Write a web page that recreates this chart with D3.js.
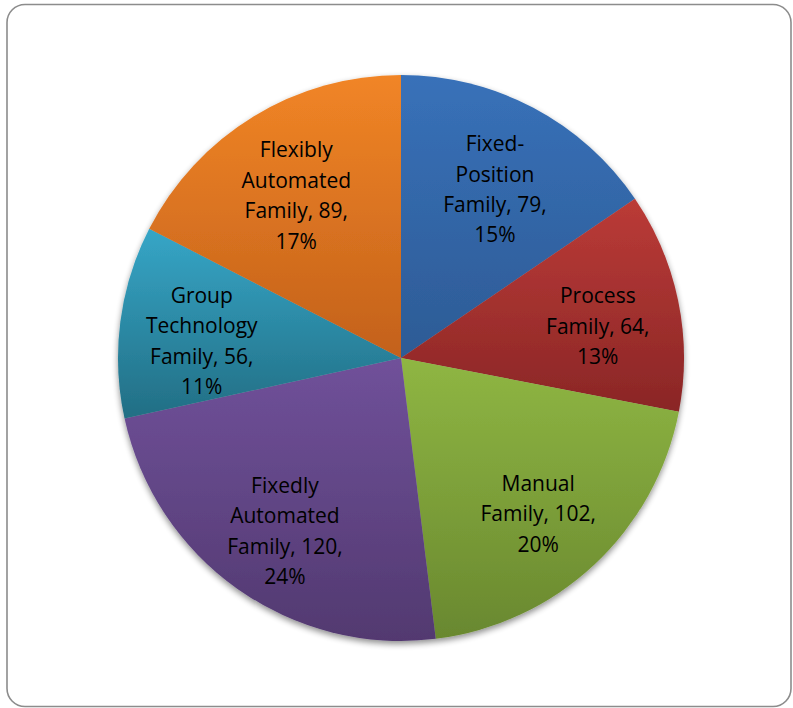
<!DOCTYPE html>
<html>
<head>
<meta charset="utf-8">
<script src="https://cdn.jsdelivr.net/npm/d3@7"></script>
<style>
  html, body { margin: 0; padding: 0; background: #fff; }
  svg { display: block; }
</style>
</head>
<body>
<div id="chart"></div>
<script>
// pie data, clockwise from 12 o'clock
var families = ["Fixed-Position Family", "Process Family", "Manual Family",
                "Fixedly Automated Family", "Group Technology Family", "Flexibly Automated Family"];
var counts = [79, 64, 102, 120, 56, 89];
var labelLines = [
    ["Fixed-", "Position", "Family, 79,", "15%"],
    ["Process", "Family, 64,", "13%"],
    ["Manual", "Family, 102,", "20%"],
    ["Fixedly", "Automated", "Family, 120,", "24%"],
    ["Group", "Technology", "Family, 56,", "11%"],
    ["Flexibly", "Automated", "Family, 89,", "17%"]
];
// gradient stops: top colour, bottom colour
var topColors = ["#3871b9", "#bb3b37", "#8fb643", "#70519a", "#36a6c7", "#f18526"];
var bottomColors = ["#2d5b95", "#8a2626", "#69882f", "#523970", "#226e84", "#c3611b"];

var W = 793, H = 708;
var cx = 401, cy = 358, radius = 283;

var svg = d3.select("#chart").append("svg")
    .attr("width", W)
    .attr("height", H);

var defs = svg.append("defs");

var shadow = defs.append("filter")
    .attr("id", "shadow")
    .attr("x", "-10%").attr("y", "-10%")
    .attr("width", "120%").attr("height", "120%");
shadow.append("feGaussianBlur").attr("in", "SourceAlpha").attr("stdDeviation", 3);
shadow.append("feOffset").attr("dx", 0).attr("dy", 3).attr("result", "blur");
shadow.append("feComponentTransfer").append("feFuncA").attr("type", "linear").attr("slope", 0.45);
var merge = shadow.append("feMerge");
merge.append("feMergeNode");
merge.append("feMergeNode").attr("in", "SourceGraphic");

families.forEach(function(f, i){
    var g = defs.append("linearGradient")
        .attr("id", "grad" + i)
        .attr("x1", 0).attr("y1", 0).attr("x2", 0).attr("y2", 1);
    g.append("stop").attr("offset", "0%").attr("stop-color", topColors[i]);
    g.append("stop").attr("offset", "100%").attr("stop-color", bottomColors[i]);
});

// chart frame
svg.append("rect")
    .attr("x", 7).attr("y", 4.5)
    .attr("width", 784).attr("height", 702)
    .attr("rx", 18).attr("ry", 18)
    .attr("fill", "#fff")
    .attr("stroke", "#8c8c8c")
    .attr("stroke-width", 1.6);

var pie = d3.pie().sort(null).value(function(d){ return d; });
var arcs = pie(counts);

var arc = d3.arc().innerRadius(0).outerRadius(radius);
var labelArc = d3.arc().innerRadius(radius * 0.71).outerRadius(radius * 0.71);

var g = svg.append("g")
    .attr("transform", "translate(" + cx + "," + cy + ")");

g.append("g")
    .attr("filter", "url(#shadow)")
    .selectAll("path")
    .data(arcs)
    .enter().append("path")
    .attr("d", arc)
    .attr("fill", function(d, i){ return "url(#grad" + i + ")"; });

var lineH = 30.5;
var labels = g.selectAll("text.lbl")
    .data(arcs)
    .enter().append("text")
    .attr("class", "lbl")
    .attr("text-anchor", "middle")
    .attr("font-family", "'Open Sans', sans-serif")
    .attr("font-size", 21)
    .attr("fill", "#000")
    .attr("transform", function(d){ return "translate(" + labelArc.centroid(d) + ")"; });

labels.each(function(d, i){
    var lines = labelLines[i];
    var t = d3.select(this);
    var y0 = -(lines.length - 1) * lineH / 2 + 9;
    lines.forEach(function(s, k){
        t.append("tspan")
            .attr("x", 0)
            .attr("y", y0 + k * lineH)
            .attr("dy", "0.35em")
            .text(s);
    });
});
</script>
</body>
</html>
